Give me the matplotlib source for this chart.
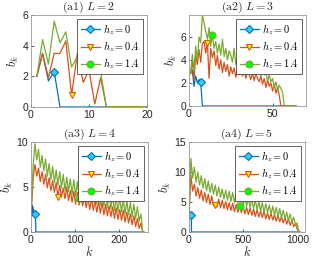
import numpy as np
import matplotlib.pyplot as plt

plt.rcParams["font.family"] = ["Liberation Sans", "DejaVu Sans"]
plt.rcParams["mathtext.fontset"] = "cm"

# ---- data ----
# (a1) L = 2, k = 1..20
k1 = np.arange(1, 21)
b1_h0 = [2.0, 3.5, 1.7, 2.3] + [0.0] * 16
b1_h04 = [2.0, 3.5, 1.9, 3.5, 3.5, 4.3, 0.8, 3.5, 1.6, 2.4, 0.2, 1.9] + [0.0] * 8
b1_h14 = [2.0, 4.4, 2.8, 5.6, 4.2, 4.9, 2.6, 3.3, 2.4, 2.45, 2.6, 2.3] + [0.0] * 8

# (a2) L = 3, k = 1..64
k2 = np.arange(1, 65)
b2_h0 = [2.9, 3.1, 1.7, 2.6, 2.0, 2.3, 2.1] + [0.0] * 57
b2_h04 = [2.8, 4.0, 2.2, 4.4, 3.6, 4.9, 3.8, 5.4, 5.6, 4.6, 5.5, 2.4, 5.0, 4.2, 4.8, 3.5,
          4.4, 3.2, 4.0, 2.9, 3.8, 3.0, 3.6, 2.6, 3.4, 2.8, 3.3, 2.5, 3.1, 2.7, 3.4, 2.6,
          3.2, 2.4, 3.0, 2.7, 2.3, 2.9, 2.2, 2.8, 2.4, 2.1, 2.6, 1.9, 2.4, 1.6, 2.3, 1.7,
          2.0, 1.3, 1.9, 1.1, 1.6, 0.9] + [0.0] * 10
b2_h14 = [2.8, 4.5, 3.0, 5.2, 4.0, 6.0, 5.5, 7.9, 7.2, 6.5, 5.8, 6.8, 5.2, 6.2, 5.0, 5.6,
          4.6, 5.4, 4.4, 5.8, 4.3, 5.0, 4.0, 4.8, 4.4, 3.8, 5.0, 3.6, 4.2, 3.9, 3.4, 4.4,
          3.5, 3.9, 3.2, 4.0, 3.3, 3.6, 2.9, 3.5, 3.0, 3.4, 2.6, 3.2, 2.7, 2.9, 2.2, 2.7,
          2.1, 2.4, 1.6, 2.1, 1.4, 1.8, 1.5, 1.2] + [0.0] * 8

# (a3) L = 4, blue on k = 1..256, others sampled every 4th k
k3_h0 = np.arange(1, 257)
b3_h0 = [2.0, 3.0, 2.2, 2.8, 1.8, 2.5, 2.0, 2.2, 2.0, 2.3] + [0.0] * 246
k3 = np.arange(1, 257, 4)
b3_h04 = [2.5, 6.0, 7.5, 6.2, 7.1, 5.6, 6.7, 5.3, 6.4, 4.9, 6.0, 4.6, 5.7, 4.4, 5.5, 3.9,
          5.2, 3.9, 4.9, 3.7, 5.0, 3.5, 4.6, 3.3, 4.5, 3.1, 4.4, 3.0, 4.1, 2.9, 4.0, 2.7,
          3.8, 2.5, 3.7, 2.4, 3.5, 2.2, 3.4, 2.1, 3.3, 1.9, 3.1, 1.8, 2.9, 1.7, 2.8, 1.5,
          2.7, 1.4, 2.5, 1.3, 2.4, 1.1, 2.2, 1.0, 2.0, 0.8, 1.8, 0.6, 1.5, 0.4, 1.0, 0.0]
b3_h14 = [3.0, 7.5, 9.8, 8.0, 9.2, 7.2, 8.5, 6.8, 8.1, 6.2, 7.6, 5.8, 7.3, 5.5, 6.9, 5.2,
          6.7, 4.9, 6.4, 4.6, 6.1, 4.5, 5.9, 4.2, 5.8, 4.0, 5.6, 3.8, 5.4, 3.8, 6.1, 3.6,
          5.1, 3.4, 5.0, 3.3, 5.5, 3.1, 4.7, 3.0, 4.5, 2.9, 4.4, 2.7, 4.2, 2.6, 4.1, 2.4,
          3.9, 2.3, 3.8, 2.2, 3.6, 2.0, 3.5, 1.9, 3.3, 1.7, 3.1, 1.5, 2.8, 1.2, 2.0, 0.0]

# (a4) L = 5, blue on k = 1..1024, others sampled every 16th k
k4_h0 = np.arange(1, 1025)
b4_h0 = [3.0, 4.2, 2.4, 3.6, 2.7, 3.3, 2.5, 3.1, 2.8, 2.6, 3.0, 2.7, 2.9, 2.5, 2.8,
         2.6, 2.9, 2.8, 2.7, 2.5, 2.6] + [0.0] * 1003
k4 = np.arange(1, 1025, 16)
b4_h04 = [3.0, 9.5, 6.8, 8.0, 6.0, 7.4, 5.6, 7.0, 5.2, 6.6, 4.9, 6.3, 4.6, 6.0, 4.4, 4.5,
          4.2, 5.5, 4.0, 5.3, 3.9, 5.1, 3.7, 4.9, 3.6, 4.8, 3.4, 4.6, 3.3, 4.4, 3.2, 4.3,
          3.0, 4.1, 2.9, 4.0, 2.8, 3.8, 2.6, 3.7, 2.5, 3.5, 2.4, 3.4, 2.2, 3.2, 2.1, 3.1,
          2.0, 2.9, 1.8, 2.8, 1.7, 2.6, 1.5, 2.4, 1.3, 2.2, 1.1, 1.9, 0.9, 1.4, 0.5, 0.0]
b4_h14 = [3.0, 12.3, 9.0, 10.8, 8.3, 10.0, 7.8, 9.4, 7.3, 8.9, 6.9, 8.5, 6.6, 8.1, 6.3, 7.8,
          6.0, 7.5, 5.8, 7.2, 5.5, 7.0, 5.3, 6.8, 5.1, 6.6, 4.9, 6.4, 4.8, 4.4, 6.0, 4.5,
          5.8, 4.3, 5.6, 4.1, 5.5, 3.9, 5.3, 3.7, 5.1, 3.5, 4.9, 3.3, 4.7, 3.2, 4.5, 3.0,
          4.3, 2.8, 4.1, 2.6, 3.9, 2.4, 3.6, 2.2, 3.3, 1.9, 3.0, 1.6, 2.5, 1.2, 1.5, 0.0]

labels = [r'$h_z = 0$', r'$h_z = 0.4$', r'$h_z = 1.4$']

panels = [
    dict(title=r'$\mathrm{(a1)}\ L = 2$', rect=(31, 15, 116, 92), xlim=(0, 20), ylim=(0, 6),
         xt=[0, 10, 20], yt=[0, 2, 4, 6],
         series=[(k1, b1_h0, 3), (k1, b1_h04, 6), (k1, b1_h14, 9)], xlab=False),
    dict(title=r'$\mathrm{(a2)}\ L = 3$', rect=(189, 15, 117, 91), xlim=(0, 70), ylim=(0, 7.9),
         xt=[0, 50], yt=[0, 2, 4, 6],
         series=[(k2, b2_h0, 6), (k2, b2_h04, 10), (k2, b2_h14, 13)], xlab=False),
    dict(title=r'$\mathrm{(a3)}\ L = 4$', rect=(31, 142, 117, 90), xlim=(0, 265), ylim=(0, 10),
         xt=[0, 100, 200], yt=[0, 5, 10],
         series=[(k3_h0, b3_h0, 8), (k3, b3_h04, 15), (k3, b3_h14, 27)], xlab=True),
    dict(title=r'$\mathrm{(a4)}\ L = 5$', rect=(189, 142, 116, 90), xlim=(0, 1065), ylim=(0, 15),
         xt=[0, 500, 1000], yt=[0, 5, 10, 15],
         series=[(k4_h0, b4_h0, 17), (k4, b4_h04, 15), (k4, b4_h14, 29)], xlab=True),
]

colors = ['#0072BD', '#D95319', '#77AC30']
markers = ['D', 'v', 'o']
faces = ['#33CCFF', '#FFFF00', '#00FF00']
sizes = [4.2, 5.0, 5.0]

W, H = 325, 261
fig = plt.figure(figsize=(W / 100, H / 100), dpi=100)

for p in panels:
    x0, y0, w, h = p['rect']
    ax = fig.add_axes([x0 / W, 1 - (y0 + h) / H, w / W, h / H])
    for (k, b, mi), c, m, fc, ms, lab in zip(p['series'], colors, markers, faces, sizes, labels):
        ax.plot(k, b, color=c, lw=0.9, marker=m, markevery=[mi], markersize=ms,
                markerfacecolor=fc, markeredgecolor=c, markeredgewidth=0.8, label=lab)
    ax.set_xlim(*p['xlim'])
    ax.set_ylim(*p['ylim'])
    ax.set_xticks(p['xt'])
    ax.set_yticks(p['yt'])
    ax.tick_params(direction='in', length=2.5, width=0.5, labelsize=7.5,
                   colors='#262626', pad=2)
    for s in ax.spines.values():
        s.set_color('#999999')
        s.set_linewidth(0.6)
    ax.set_title(p['title'], fontsize=8.5, pad=2.5, color='#262626')
    ax.set_ylabel(r'$b_k$', fontsize=9, labelpad=1, color='#262626')
    if p['xlab']:
        ax.set_xlabel(r'$k$', fontsize=9, labelpad=0, color='#262626')
    leg = ax.legend(loc='upper right', fontsize=7.5, numpoints=1, handlelength=1.9,
                    handletextpad=0.3, labelspacing=0.25, borderpad=0.3,
                    borderaxespad=0.35, fancybox=False, framealpha=1)
    leg.get_frame().set_edgecolor('#262626')
    leg.get_frame().set_linewidth(0.5)

fig.savefig('out.png', dpi=100)
